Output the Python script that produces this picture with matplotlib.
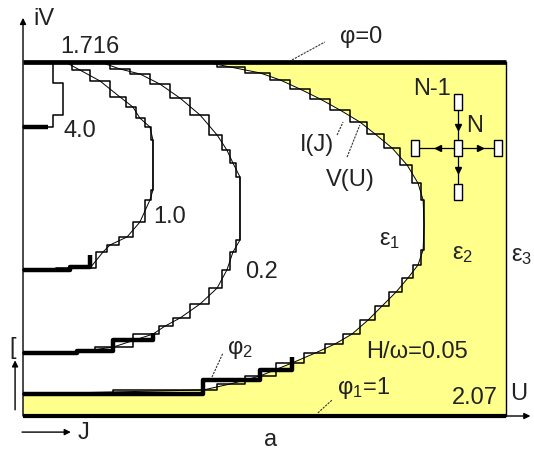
import matplotlib
matplotlib.use('Agg')
import matplotlib.pyplot as plt
from matplotlib.path import Path

plt.rcParams['font.family'] = ['Liberation Sans', 'DejaVu Sans']
plt.rcParams['mathtext.fontset'] = 'custom'
plt.rcParams['mathtext.rm'] = 'Liberation Sans'
plt.rcParams['mathtext.it'] = 'Liberation Sans'

# ---- data ----
U_MAX = 2.07
V_MAX = 1.716

# contour H/omega = 4.0 (staircase only)
c40_U = [0, 0.129, 0.129, 0.171, 0.171, 0.129, 0.129]
c40_V = [1.401, 1.401, 1.459, 1.459, 1.614, 1.614, 1.716]
t40_U = [0, 0.107]
t40_V = [1.401, 1.401]

# contour H/omega = 1.0
c10_U = [0, 0.287, 0.343, 0.373, 0.446, 0.501, 0.544, 0.557, 0.557, 0.544,
         0.501, 0.471, 0.416, 0.330, 0.244, 0.180]
c10_V = [0.708, 0.717, 0.795, 0.829, 0.868, 0.940, 1.047, 1.095, 1.338, 1.401,
         1.444, 1.498, 1.546, 1.624, 1.677, 1.716]
t10_U = [0, 0.201, 0.201, 0.287, 0.287]
t10_V = [0.708, 0.708, 0.72, 0.72, 0.78]

# contour H/omega = 0.2
c02_U = [0, 0.231, 0.386, 0.557, 0.609, 0.673, 0.759, 0.832, 0.874, 0.900, 0.930,
         0.930, 0.900, 0.874, 0.832, 0.759, 0.673, 0.587, 0.501, 0.416, 0.330]
c02_V = [0.305, 0.310, 0.334, 0.397, 0.436, 0.475, 0.543, 0.620, 0.708, 0.795, 0.853,
         1.159, 1.226, 1.289, 1.362, 1.459, 1.541, 1.609, 1.658, 1.682, 1.716]
t02_U = [0, 0.231, 0.231, 0.386, 0.386, 0.557, 0.557]
t02_V = [0.305, 0.305, 0.315, 0.315, 0.37, 0.37, 0.40]

# contour H/omega = 0.05 (boundary of the yellow region)
c005_U = [0, 0.772, 0.887, 1.016, 1.153, 1.252, 1.337, 1.410, 1.479, 1.539, 1.599,
          1.650, 1.693, 1.715, 1.719, 1.715, 1.693, 1.646, 1.582, 1.509, 1.444,
          1.359, 1.273, 1.187, 1.102, 1.016, 0.887, 0.780]
c005_V = [0.107, 0.126, 0.155, 0.194, 0.257, 0.305, 0.349, 0.397, 0.465, 0.533, 0.601,
          0.669, 0.732, 0.805, 0.926, 1.047, 1.129, 1.217, 1.299, 1.367, 1.425,
          1.483, 1.537, 1.585, 1.629, 1.663, 1.692, 1.716]
t005_U = [0, 0.772, 0.772, 1.016, 1.016, 1.153, 1.153]
t005_V = [0.107, 0.107, 0.175, 0.175, 0.223, 0.223, 0.286]

# grid stencil nodes (centre, up, down, left, right)
node_U = [1.865, 1.865, 1.865, 1.680, 2.036]
node_V = [1.299, 1.522, 1.086, 1.299, 1.299]
arrow_U = [1.865, 1.865, 1.779, 1.959]
arrow_V = [1.401, 1.192, 1.299, 1.299]
arrow_M = ['v', 'v', '<', '>']

# ---- figure ----
fig = plt.figure(figsize=(5.34, 4.55), dpi=100)
ax = fig.add_axes([0, 0, 1, 1])
ax.set_xlim(-0.0986, 2.1903)
ax.set_ylim(-0.189, 2.0165)
ax.axis('off')

yellow = '#FFFF8C'
poly_U = [0, U_MAX, U_MAX] + c005_U[::-1]
poly_V = [0, 0, V_MAX] + c005_V[::-1]
ax.fill(poly_U, poly_V, color=yellow, lw=0, zorder=1)

for cu, cv in [(c10_U, c10_V), (c02_U, c02_V), (c005_U, c005_V)]:
    ax.plot(cu, cv, color='black', lw=0.7, zorder=3)
    ax.plot(cu, cv, color='black', lw=1.1, drawstyle='steps-mid', zorder=3)
ax.plot(c40_U, c40_V, color='black', lw=1.1, zorder=3)

for tu, tv in [(t40_U, t40_V), (t10_U, t10_V), (t02_U, t02_V), (t005_U, t005_V)]:
    ax.plot(tu, tv, color='black', lw=3.2, solid_capstyle='butt', zorder=4)

# frame
ax.plot([0, U_MAX], [V_MAX, V_MAX], color='black', lw=3.4, solid_capstyle='butt', zorder=4)
ax.plot([0, U_MAX], [0, 0], color='black', lw=3.0, solid_capstyle='butt', zorder=4)
ax.plot([U_MAX, U_MAX], [0, V_MAX], color='black', lw=1.0, zorder=4)
ax.annotate('', xy=(0, 1.93), xytext=(0, 0),
            arrowprops=dict(arrowstyle='-|>', lw=1.0, color='black', mutation_scale=9,
                            shrinkA=0, shrinkB=0), zorder=4)
ax.annotate('', xy=(2.175, 0), xytext=(U_MAX, 0),
            arrowprops=dict(arrowstyle='-|>', lw=1.0, color='black', mutation_scale=9,
                            shrinkA=0, shrinkB=0), zorder=4)
# small arrows on the left and below
ax.annotate('', xy=(-0.034, 0.27), xytext=(-0.034, 0.03),
            arrowprops=dict(arrowstyle='-|>', lw=1.0, color='black', mutation_scale=9,
                            shrinkA=0, shrinkB=0))
ax.annotate('', xy=(0.205, -0.078), xytext=(-0.004, -0.078),
            arrowprops=dict(arrowstyle='-|>', lw=1.0, color='black', mutation_scale=9,
                            shrinkA=0, shrinkB=0))

# stencil
ax.plot([node_U[1], node_U[2]], [node_V[1], node_V[2]], color='black', lw=0.9, zorder=5)
ax.plot([node_U[3], node_U[4]], [node_V[3], node_V[4]], color='black', lw=0.9, zorder=5)
node_marker = Path([(-0.55, -1), (0.55, -1), (0.55, 1), (-0.55, 1), (-0.55, -1)],
                   [Path.MOVETO, Path.LINETO, Path.LINETO, Path.LINETO, Path.CLOSEPOLY])
ax.plot(node_U, node_V, ls='none', marker=node_marker, ms=11, mfc='white', mec='black',
        mew=1.0, zorder=6)
for u, v, m in zip(arrow_U, arrow_V, arrow_M):
    ax.plot([u], [v], ls='none', marker=m, ms=4, color='black', zorder=6)

# leader lines (dashed)
leaders = [((1.153, 1.726), (1.294, 1.813)),
           ((1.346, 1.362), (1.372, 1.425)),
           ((1.389, 1.255), (1.444, 1.411)),
           ((1.264, 0.015), (1.325, 0.078)),
           ((0.810, 0.189), (0.857, 0.305))]
for (u0, v0), (u1, v1) in leaders:
    ax.plot([u0, u1], [v0, v1], color='#333333', lw=0.8, ls=(0, (2, 1)), zorder=5)

fs = 17
tc = '#222222'
texts = [
    (0.09, 1.924, 'iV'),
    (0.287, 1.789, '1.716'),
    (1.449, 1.837, 'φ=0'),
    (1.753, 1.585, 'N-1'),
    (1.937, 1.406, 'N'),
    (1.260, 1.314, 'I(J)'),
    (1.402, 1.144, 'V(U)'),
    (1.573, 0.853, 'ε$_1$'),
    (1.886, 0.785, 'ε$_2$'),
    (2.139, 0.776, 'ε$_3$'),
    (1.689, 0.310, 'H/ω=0.05'),
    (1.462, 0.136, 'φ$_1$=1'),
    (1.937, 0.087, '2.07'),
    (2.126, 0.107, 'U'),
    (1.059, -0.116, 'a'),
    (0.930, 0.320, 'φ$_2$'),
    (0.630, 0.965, '1.0'),
    (1.024, 0.698, '0.2'),
    (0.244, 1.381, '4.0'),
    (-0.043, 0.330, '['),
    (0.261, -0.082, 'J'),
]
for u, v, s in texts:
    ax.text(u, v, s, ha='center', va='center', fontsize=fs, color=tc, zorder=7)

fig.savefig('out.png', dpi=100)
